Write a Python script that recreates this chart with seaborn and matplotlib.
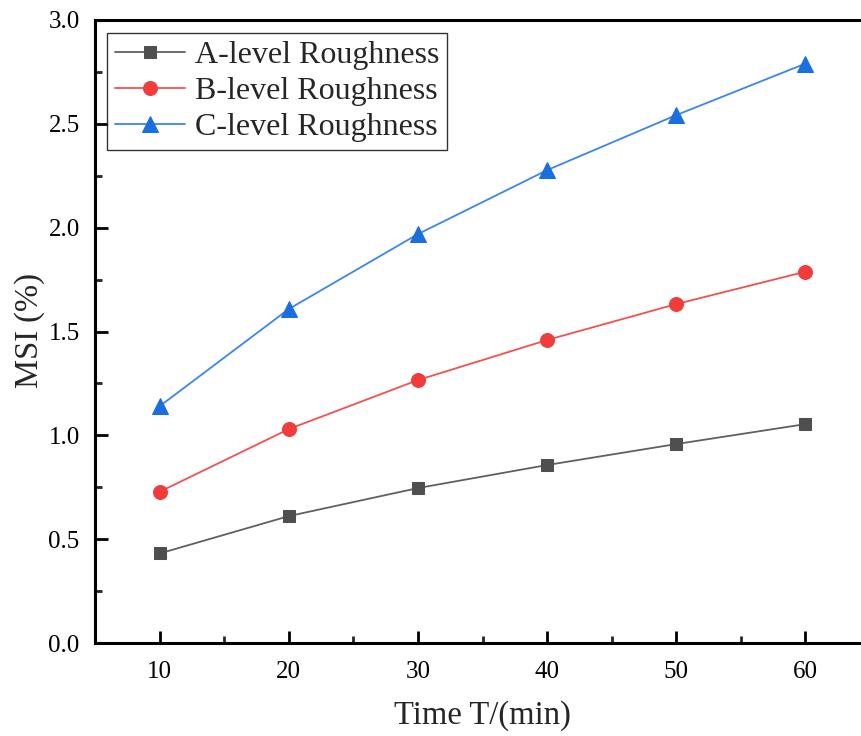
import matplotlib
matplotlib.use("Agg")
import matplotlib.pyplot as plt
import seaborn as sns
import pandas as pd
from matplotlib.ticker import MultipleLocator

time_min = [10, 20, 30, 40, 50, 60]
a_level = [0.431, 0.611, 0.746, 0.857, 0.958, 1.054]
b_level = [0.728, 1.030, 1.266, 1.459, 1.632, 1.788]
c_level = [1.140, 1.608, 1.969, 2.277, 2.542, 2.790]
series_names = ["A-level Roughness", "B-level Roughness", "C-level Roughness"]

sns.set_theme(style="ticks")
plt.rcParams['font.family'] = ['Liberation Serif', 'DejaVu Serif']

rows = []
for name, vals in zip(series_names, [a_level, b_level, c_level]):
    for t, v in zip(time_min, vals):
        rows.append({"Time": t, "MSI": v, "Series": name})
df = pd.DataFrame(rows)

colors = {"A-level Roughness": "#4f4f4f", "B-level Roughness": "#f23b3b", "C-level Roughness": "#1a6ee0"}
line_colors = {"A-level Roughness": "#606060", "B-level Roughness": "#f45050", "C-level Roughness": "#3a85ee"}
markers = {"A-level Roughness": "s", "B-level Roughness": "o", "C-level Roughness": "^"}
msizes = {"A-level Roughness": 9, "B-level Roughness": 10, "C-level Roughness": 11}

fig = plt.figure(figsize=(8.61, 7.36), dpi=100)
ax = fig.add_axes([95/861, 1 - 643/736, 775/861, (643 - 20)/736])

for name in series_names:
    sub = df[df["Series"] == name]
    sns.lineplot(data=sub, x="Time", y="MSI", ax=ax, color=line_colors[name],
                 marker=markers[name], markersize=msizes[name],
                 markerfacecolor=colors[name], markeredgecolor=colors[name],
                 linewidth=1.3, label=name)

ax.set_xlim(5, 65)
ax.set_ylim(0, 3.0)
ax.xaxis.set_major_locator(MultipleLocator(10))
ax.xaxis.set_minor_locator(MultipleLocator(5))
ax.yaxis.set_major_locator(MultipleLocator(0.5))
ax.yaxis.set_minor_locator(MultipleLocator(0.25))
ax.yaxis.set_major_formatter(matplotlib.ticker.FormatStrFormatter('%.1f'))
ax.tick_params(which='major', direction='in', length=9, width=2, labelsize=18, colors='black')
ax.tick_params(axis='x', which='major', pad=13)
ax.tick_params(axis='y', which='major', pad=11)
ax.tick_params(which='minor', direction='in', length=5, width=2)
for sp in ax.spines.values():
    sp.set_linewidth(2.2)
    sp.set_color('black')

ax.set_xlabel("Time T/(min)", fontsize=23.5)
ax.set_ylabel("MSI (%)", fontsize=23.5)
ax.xaxis.set_label_coords((482 - 95) / 775, -(716 - 643) / 623)
ax.yaxis.set_label_coords(-(95 - 30) / 775, (643 - 330) / 623)
ax.yaxis.label.set_verticalalignment('center')
ax.xaxis.label.set_verticalalignment('center')

leg = ax.legend(loc='upper left', fontsize=23, frameon=True, fancybox=False,
                edgecolor='black', handlelength=2.2, borderpad=0.25,
                labelspacing=0.2, handletextpad=0.3, borderaxespad=0.0,
                bbox_to_anchor=(12/775, 1 - 13/623))
leg.get_frame().set_linewidth(1.0)

fig.savefig("out.png", dpi=100)
